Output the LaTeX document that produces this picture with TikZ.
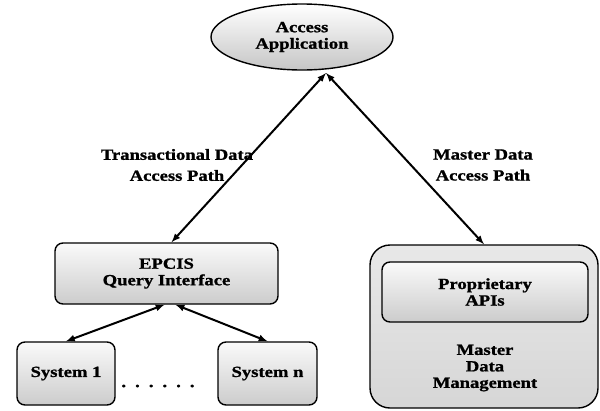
\documentclass[tikz,border=0pt]{standalone}
\usepackage{fontspec}
\setmainfont{Liberation Serif}[FakeStretch=1.2,BoldFeatures={FakeBold=1.2}]
\usetikzlibrary{shapes.geometric}
\begin{document}
\begin{tikzpicture}[x=1pt,y=-1pt,
    txt/.style={align=center,font=\fontsize{15.5}{16.5}\selectfont\bfseries},
    box/.style={txt,draw,line width=1.4pt,rounded corners=8pt,inner sep=0pt,
      top color=gray!4,bottom color=gray!40},
    path/.style={latex-latex,line width=2pt}]
  \useasboundingbox (0,0) rectangle (600,410);

  \node[txt,ellipse,draw,line width=1.4pt,minimum width=182,minimum height=66,
    inner sep=0pt,top color=white,bottom color=gray!45] (app) at (302,37) {Access\\Application};

  \node[box,minimum width=223,minimum height=61] (epcis) at (166.5,273.5) {EPCIS\\Query Interface};
  \node[box,minimum width=98,minimum height=63] (sys1) at (66,373.5) {System 1};
  \node[box,minimum width=99,minimum height=63] (sysn) at (267.5,373.5) {System n};
  \node[txt] (dots) at (158,386) {\spaceskip 7.5pt\relax . . . . . .};

  \node[draw,line width=1.4pt,rounded corners=20pt,minimum width=228,minimum height=163,
    top color=gray!18,bottom color=gray!32] (mdm) at (484,326.5) {};
  \node[box,minimum width=206,minimum height=60] (api) at (485,292) {Proprietary\\APIs};
  \node[txt] (mdmtext) at (485,368) {Master\\Data\\Management};

  \node[txt,font=\fontsize{15.5}{21}\selectfont\bfseries] (tlabel) at (177,165) {Transactional Data\\Access Path};
  \node[txt,font=\fontsize{15.5}{21}\selectfont\bfseries] (mlabel) at (483,165) {Master Data\\Access Path};

  \coordinate (apex) at (326,73);
  \draw[path] (apex) -- ([xshift=5]epcis.north);
  \draw[path] (apex) -- (mdm.north);
  \draw[path] ([xshift=-2]epcis.south) -- (sys1.north);
  \draw[path] ([xshift=9]epcis.south) -- (sysn.north);
\end{tikzpicture}
\end{document}
